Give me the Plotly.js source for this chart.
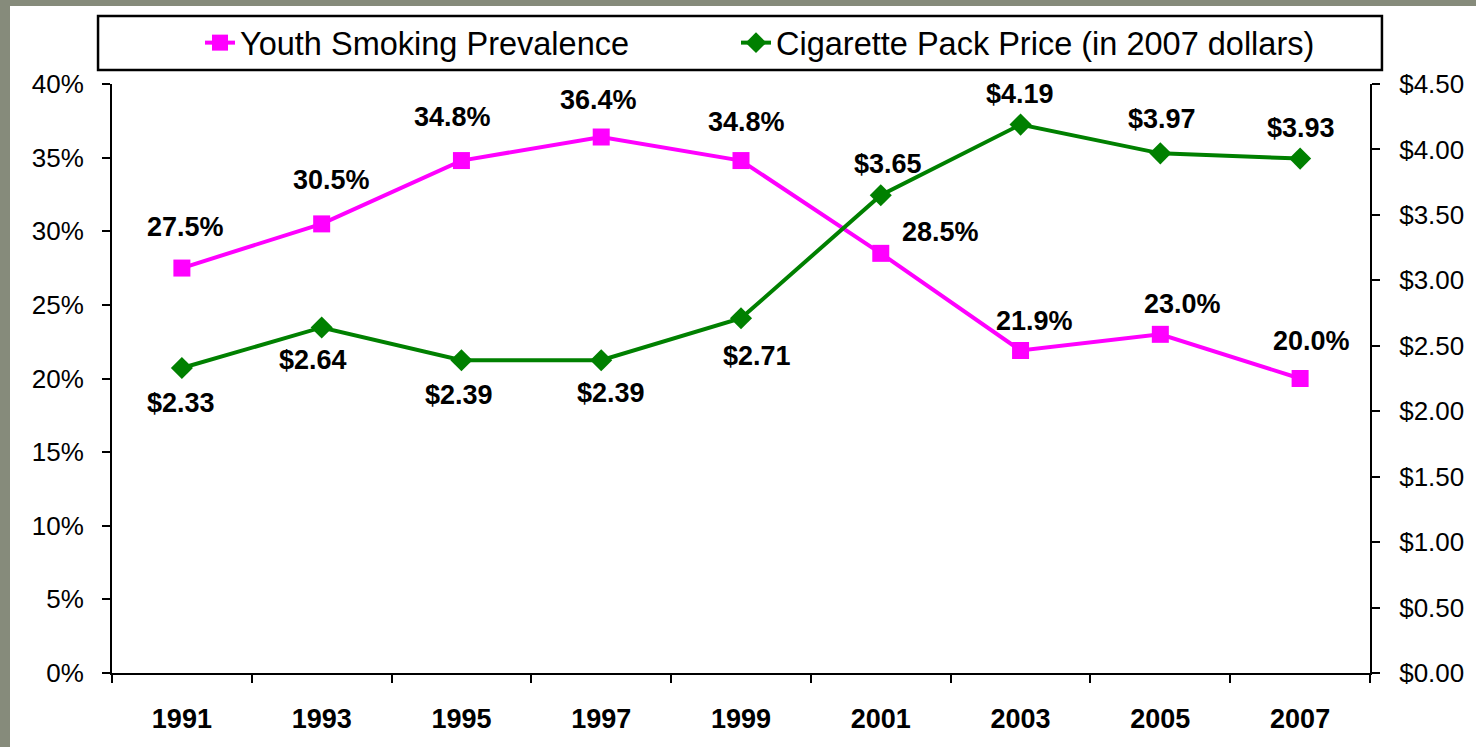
<!DOCTYPE html>
<html>
<head>
<meta charset="utf-8">
<script src="https://cdn.plot.ly/plotly-3.0.1.min.js"></script>
<style>
  html, body { margin: 0; padding: 0; width: 1476px; height: 747px; overflow: hidden; background: #868b7b; }
  #panel { position: absolute; left: 10px; top: 6px; right: 0; bottom: 0; background: #ffffff; }
  #chart { position: absolute; left: 0; top: 0; width: 1476px; height: 747px; }
</style>
</head>
<body>
<div id="panel"></div>
<div id="chart"></div>
<script>
// ---- data ----
const years = ["1991", "1993", "1995", "1997", "1999", "2001", "2003", "2005", "2007"];
const smokingPrevalence = [27.5, 30.5, 34.8, 36.4, 34.8, 28.5, 21.9, 23.0, 20.0];
const packPrice = [2.33, 2.64, 2.39, 2.39, 2.71, 3.65, 4.19, 3.97, 3.93];
const seriesNames = ["Youth Smoking Prevalence", "Cigarette Pack Price (in 2007 dollars)"];

// ---- label placement (pixels, style only) ----
const smokingLabelDx = [4, 10, -9, -3, 5, 60, 14, 22, 11];
const smokingLabelDy = [41, 44, 44, 37, 39, 21, 30, 30, 38];
const priceLabelDx = [-1, -9, -2, 10, 16, 7, -1, 2, 1];
const priceLabelDy = [-35, -33, -35, -33, -38, 31, 31, 34, 31];

const FONT = '"Liberation Sans", Arial, sans-serif';
const MAGENTA = '#ff00ff';
const GREEN = '#008000';

const traces = [
  {
    x: years, y: smokingPrevalence, name: seriesNames[0], type: 'scatter', mode: 'lines+markers',
    line: { color: MAGENTA, width: 4 },
    marker: { symbol: 'square', size: 17, color: MAGENTA },
    yaxis: 'y', hoverinfo: 'skip', legend: 'legend'
  },
  {
    x: years, y: packPrice, name: seriesNames[1], type: 'scatter', mode: 'lines+markers',
    line: { color: GREEN, width: 4 },
    marker: { symbol: 'diamond', size: 17, color: GREEN },
    yaxis: 'y2', hoverinfo: 'skip', legend: 'legend2'
  }
];

const annotations = [];
years.forEach((yr, i) => {
  annotations.push({
    x: i, y: smokingPrevalence[i], xref: 'x', yref: 'y',
    text: smokingPrevalence[i].toFixed(1) + '%', showarrow: false,
    xshift: smokingLabelDx[i], yshift: smokingLabelDy[i],
    font: { family: FONT, size: 27, color: '#000000', weight: 'bold' }
  });
  annotations.push({
    x: i, y: packPrice[i], xref: 'x', yref: 'y2',
    text: '$' + packPrice[i].toFixed(2), showarrow: false,
    xshift: priceLabelDx[i], yshift: priceLabelDy[i],
    font: { family: FONT, size: 27, color: '#000000', weight: 'bold' }
  });
});

const legendCommon = {
  orientation: 'h', xanchor: 'left', y: 1.0696, yanchor: 'middle',
  font: { family: FONT, size: 32.5, color: '#000000' },
  bgcolor: 'rgba(0,0,0,0)', borderwidth: 0
};

const layout = {
  width: 1476, height: 747,
  margin: { l: 112, r: 106, t: 84, b: 74, pad: 0 },
  paper_bgcolor: 'rgba(0,0,0,0)',
  plot_bgcolor: 'rgba(0,0,0,0)',
  font: { family: FONT, color: '#000000' },
  showlegend: true,
  legend: Object.assign({}, legendCommon, { x: (240 - 40 - 112) / 1258 }),
  legend2: Object.assign({}, legendCommon, { x: (776 - 40 - 112) / 1258 }),
  xaxis: {
    type: 'category', tickson: 'boundaries', range: [-0.5, 8.5], autorange: false,
    showline: true, linecolor: '#000000', linewidth: 2,
    ticks: 'outside', ticklen: 8, tickwidth: 2, tickcolor: '#000000',
    showgrid: false, zeroline: false, tickangle: 0,
    ticklabelstandoff: 21,
    tickfont: { family: FONT, size: 27, color: '#000000', weight: 'bold' }
  },
  yaxis: {
    range: [0, 40], dtick: 5, tick0: 0, ticksuffix: '%',
    showline: true, linecolor: '#000000', linewidth: 2,
    ticks: 'outside', ticklen: 8, tickwidth: 2, tickcolor: '#000000',
    showgrid: false, zeroline: false,
    ticklabelstandoff: 13,
    tickfont: { family: FONT, size: 26, color: '#000000' }
  },
  yaxis2: {
    range: [0, 4.5], dtick: 0.5, tick0: 0, tickprefix: '$', tickformat: '.2f',
    overlaying: 'y', side: 'right',
    showline: true, linecolor: '#000000', linewidth: 2,
    ticks: 'outside', ticklen: 8, tickwidth: 2, tickcolor: '#000000',
    showgrid: false, zeroline: false,
    ticklabelstandoff: 14,
    tickfont: { family: FONT, size: 26, color: '#000000' }
  },
  shapes: [
    { type: 'rect', xref: 'paper', yref: 'paper',
      x0: -0.0111, x1: 1.0095, y0: 1.0238, y1: 1.1154,
      line: { color: '#000000', width: 2.5 }, fillcolor: 'rgba(0,0,0,0)', layer: 'below' }
  ],
  annotations: annotations
};

Plotly.newPlot('chart', traces, layout, { displayModeBar: false, staticPlot: true });
</script>
</body>
</html>
